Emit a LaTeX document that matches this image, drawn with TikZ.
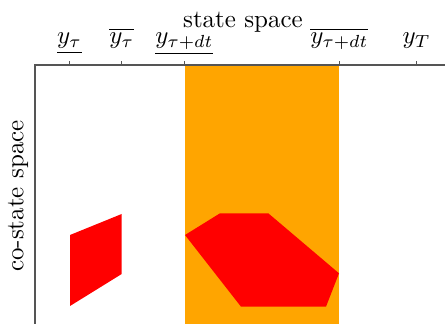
\documentclass[tikz,border=0pt]{standalone}
\usepackage{amsmath}
\usepackage{tikz}
\usepackage{xcolor}
\usetikzlibrary{positioning}
\definecolor{Plot_Orange}{HTML}{FFA500}
\definecolor{Plot_Red}{HTML}{FF0000}
\definecolor{Plot_Axis}{HTML}{555555}

\begin{document}
\begin{tikzpicture}[x=0.4pt, y=-0.4pt]
    \useasboundingbox (0,0) rectangle (445,324);

    % Pixel grid: origin top left, axes meet at (35,65)

    % === Band between the bounds at tau+dt ===
    \fill[Plot_Orange] (185,65) rectangle (339.3,324);

    % === Sets at tau (left) and tau+dt (right) ===
    \fill[Plot_Red] (70,235) -- (121.7,214) -- (121.7,274) -- (70,306) -- cycle;
    \fill[Plot_Red] (185,235) -- (220,213.3) -- (268.3,213.3) -- (339,273.3) -- (326,306.7) -- (241,306.7) -- cycle;

    % === Axes and ticks ===
    \draw[Plot_Axis, line width=0.6pt] (35,324) -- (35,65) -- (445,65);
    \foreach \x/\name/\lab in {69.5/lowA/{$\underline{y_\tau}$},
                               121.7/upA/{$\overline{y_\tau}$},
                               184.3/lowB/{$\underline{y_{\tau+dt}}$},
                               339.3/upB/{$\overline{y_{\tau+dt}}$},
                               416.7/endT/{$y_T$}} {
        \draw[Plot_Axis, line width=0.5pt] (\x,65) -- (\x,61.5);
        \node[anchor=base, inner sep=0pt] (\name) at (\x,44) {\lab};
    }

    % === Axis titles ===
    \node[anchor=base, inner sep=0pt] (xtitle) at (243,28) {state space};
    \node[rotate=90, inner sep=0pt] (ytitle) at (18,196) {co-state space};

\end{tikzpicture}
\end{document}
